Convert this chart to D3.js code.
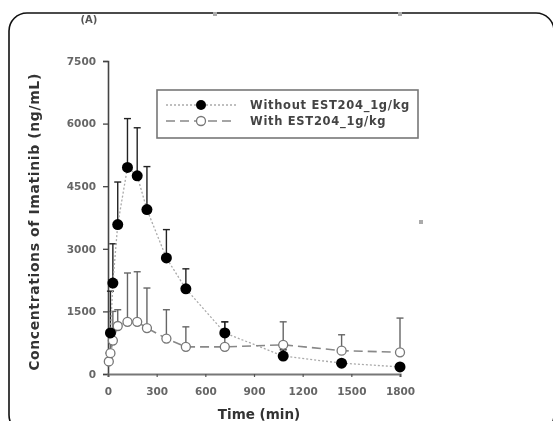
<!DOCTYPE html>
<html>
<head>
<meta charset="utf-8">
<script src="https://cdn.jsdelivr.net/npm/d3@7"></script>
<style>
  body { margin: 0; background: #fff; }
  svg { display: block; filter: blur(0.45px); }
</style>
</head>
<body>
<div id="container"></div>
<script>
  // data
  const timesWithout = [15, 30, 60, 120, 180, 240, 360, 480, 720, 1080, 1440, 1800];
  const concWithout = [985, 2180, 3580, 4950, 4750, 3940, 2780, 2040, 985, 430, 260, 170];
  const sdWithout = [1000, 940, 1020, 1170, 1150, 1030, 680, 480, 265, 150, 80, 60];

  const timesWith = [5, 15, 30, 60, 120, 180, 240, 360, 480, 720, 1080, 1440, 1800];
  const concWith = [300, 500, 800, 1150, 1250, 1250, 1100, 850, 650, 650, 700, 560, 520];
  const sdWith = [200, 450, 700, 390, 1170, 1200, 960, 690, 480, 600, 550, 380, 820];

  const xTicks = [0, 300, 600, 900, 1200, 1500, 1800];
  const yTicks = [0, 1500, 3000, 4500, 6000, 7500];
  const seriesNames = ["Without EST204_1g/kg", "With EST204_1g/kg"];

  const width = 553;
  const height = 421;
  const font = "'DejaVu Sans', Verdana, sans-serif";

  const svg = d3.create("svg")
      .attr("width", width)
      .attr("height", height);

  // outer rounded frame
  svg.append("rect")
      .attr("x", 9)
      .attr("y", 13)
      .attr("width", 545)
      .attr("height", 420)
      .attr("rx", 18)
      .attr("fill", "none")
      .attr("stroke", "#111")
      .attr("stroke-width", 1.6);

  // little grey specks from the scan
  [[215, 14], [400, 14], [421, 222]].forEach(p => {
    svg.append("rect")
        .attr("x", p[0] - 2).attr("y", p[1] - 2)
        .attr("width", 4).attr("height", 4)
        .attr("fill", "#aaa");
  });

  svg.append("text")
      .attr("x", 89)
      .attr("y", 23)
      .attr("text-anchor", "middle")
      .attr("font-family", font)
      .attr("font-size", "10px")
      .attr("font-weight", "bold")
      .attr("fill", "#555")
      .text("(A)");

  const x = d3.scaleLinear().domain([0, 1800]).range([108, 400]);
  const y = d3.scaleLinear().domain([0, 7500]).range([374, 61]);

  // y axis
  const yAxis = svg.append("g")
      .attr("transform", `translate(${x(0)},0)`)
      .call(d3.axisLeft(y).tickValues(yTicks).tickFormat(d3.format("d")).tickSize(5).tickPadding(7));
  yAxis.select(".domain").attr("stroke", "#444").attr("stroke-width", 1.6);
  yAxis.selectAll(".tick line").attr("stroke", "#444").attr("stroke-width", 1.3);
  yAxis.selectAll(".tick text")
      .attr("font-family", font)
      .attr("font-size", "10.5px")
      .attr("font-weight", "bold")
      .attr("fill", "#666");

  // x axis
  const xAxis = svg.append("g")
      .attr("transform", `translate(0,${y(0)})`)
      .call(d3.axisBottom(x).tickValues(xTicks).tickFormat(d3.format("d")).tickSize(3).tickPadding(11));
  xAxis.select(".domain").attr("stroke", "#777").attr("stroke-width", 2.2);
  xAxis.selectAll(".tick line").attr("stroke", "#555").attr("stroke-width", 1.2);
  xAxis.selectAll(".tick text")
      .attr("font-family", font)
      .attr("font-size", "10.5px")
      .attr("font-weight", "bold")
      .attr("fill", "#666");

  // axis titles
  svg.append("text")
      .attr("transform", "translate(39,222) rotate(-90)")
      .attr("text-anchor", "middle")
      .attr("font-family", font)
      .attr("font-size", "14px")
      .attr("font-weight", "bold")
      .attr("letter-spacing", "0.6px")
      .attr("fill", "#333")
      .text("Concentrations of Imatinib (ng/mL)");

  svg.append("text")
      .attr("x", 259)
      .attr("y", 419)
      .attr("text-anchor", "middle")
      .attr("font-family", font)
      .attr("font-size", "13.5px")
      .attr("font-weight", "bold")
      .attr("fill", "#333")
      .text("Time (min)");

  const withoutData = timesWithout.map((t, i) => ({t: t, v: concWithout[i], sd: sdWithout[i]}));
  const withData = timesWith.map((t, i) => ({t: t, v: concWith[i], sd: sdWith[i]}));

  const line = d3.line().x(d => x(d.t)).y(d => y(d.v));

  // error bars (upper only)
  function errBars(data, color) {
    const g = svg.append("g");
    g.selectAll("line.v").data(data).join("line")
        .attr("x1", d => x(d.t)).attr("x2", d => x(d.t))
        .attr("y1", d => y(d.v)).attr("y2", d => y(d.v + d.sd))
        .attr("stroke", color).attr("stroke-width", 1.4);
    g.selectAll("line.c").data(data).join("line")
        .attr("x1", d => x(d.t) - 3.5).attr("x2", d => x(d.t) + 3.5)
        .attr("y1", d => y(d.v + d.sd)).attr("y2", d => y(d.v + d.sd))
        .attr("stroke", color).attr("stroke-width", 1.4);
  }
  errBars(withData, "#666");
  errBars(withoutData, "#222");

  // lines
  svg.append("path")
      .datum(withoutData)
      .attr("d", line)
      .attr("fill", "none")
      .attr("stroke", "#aaa")
      .attr("stroke-width", 1.3)
      .attr("stroke-dasharray", "2,2");

  svg.append("path")
      .datum(withData)
      .attr("d", line)
      .attr("fill", "none")
      .attr("stroke", "#888")
      .attr("stroke-width", 1.6)
      .attr("stroke-dasharray", "9,5");

  // markers
  svg.append("g").selectAll("circle").data(withData).join("circle")
      .attr("cx", d => x(d.t)).attr("cy", d => y(d.v))
      .attr("r", 4.5)
      .attr("fill", "#fff")
      .attr("stroke", "#777")
      .attr("stroke-width", 1.3);

  svg.append("g").selectAll("circle").data(withoutData).join("circle")
      .attr("cx", d => x(d.t)).attr("cy", d => y(d.v))
      .attr("r", 5.5)
      .attr("fill", "#000");

  // legend
  const legend = svg.append("g");
  legend.append("rect")
      .attr("x", 157).attr("y", 90)
      .attr("width", 261).attr("height", 48)
      .attr("fill", "#fff")
      .attr("stroke", "#777")
      .attr("stroke-width", 1.6);

  const rows = [
    {name: seriesNames[0], dash: "2,2", color: "#aaa", fill: "#000", stroke: "none", r: 5},
    {name: seriesNames[1], dash: "9,5", color: "#888", fill: "#fff", stroke: "#777", r: 4.5}
  ];
  rows.forEach((r, i) => {
    const yy = 105 + i * 16;
    legend.append("line")
        .attr("x1", 166).attr("x2", 236)
        .attr("y1", yy).attr("y2", yy)
        .attr("stroke", r.color)
        .attr("stroke-width", 1.4)
        .attr("stroke-dasharray", r.dash);
    legend.append("circle")
        .attr("cx", 201).attr("cy", yy)
        .attr("r", r.r)
        .attr("fill", r.fill)
        .attr("stroke", r.stroke)
        .attr("stroke-width", 1.3);
    legend.append("text")
        .attr("x", 250).attr("y", yy + 4)
        .attr("font-family", font)
        .attr("font-size", "11.5px")
        .attr("font-weight", "bold")
        .attr("letter-spacing", "0.7px")
        .attr("fill", "#444")
        .text(r.name);
  });

  container.append(svg.node());
</script>
</body>
</html>
